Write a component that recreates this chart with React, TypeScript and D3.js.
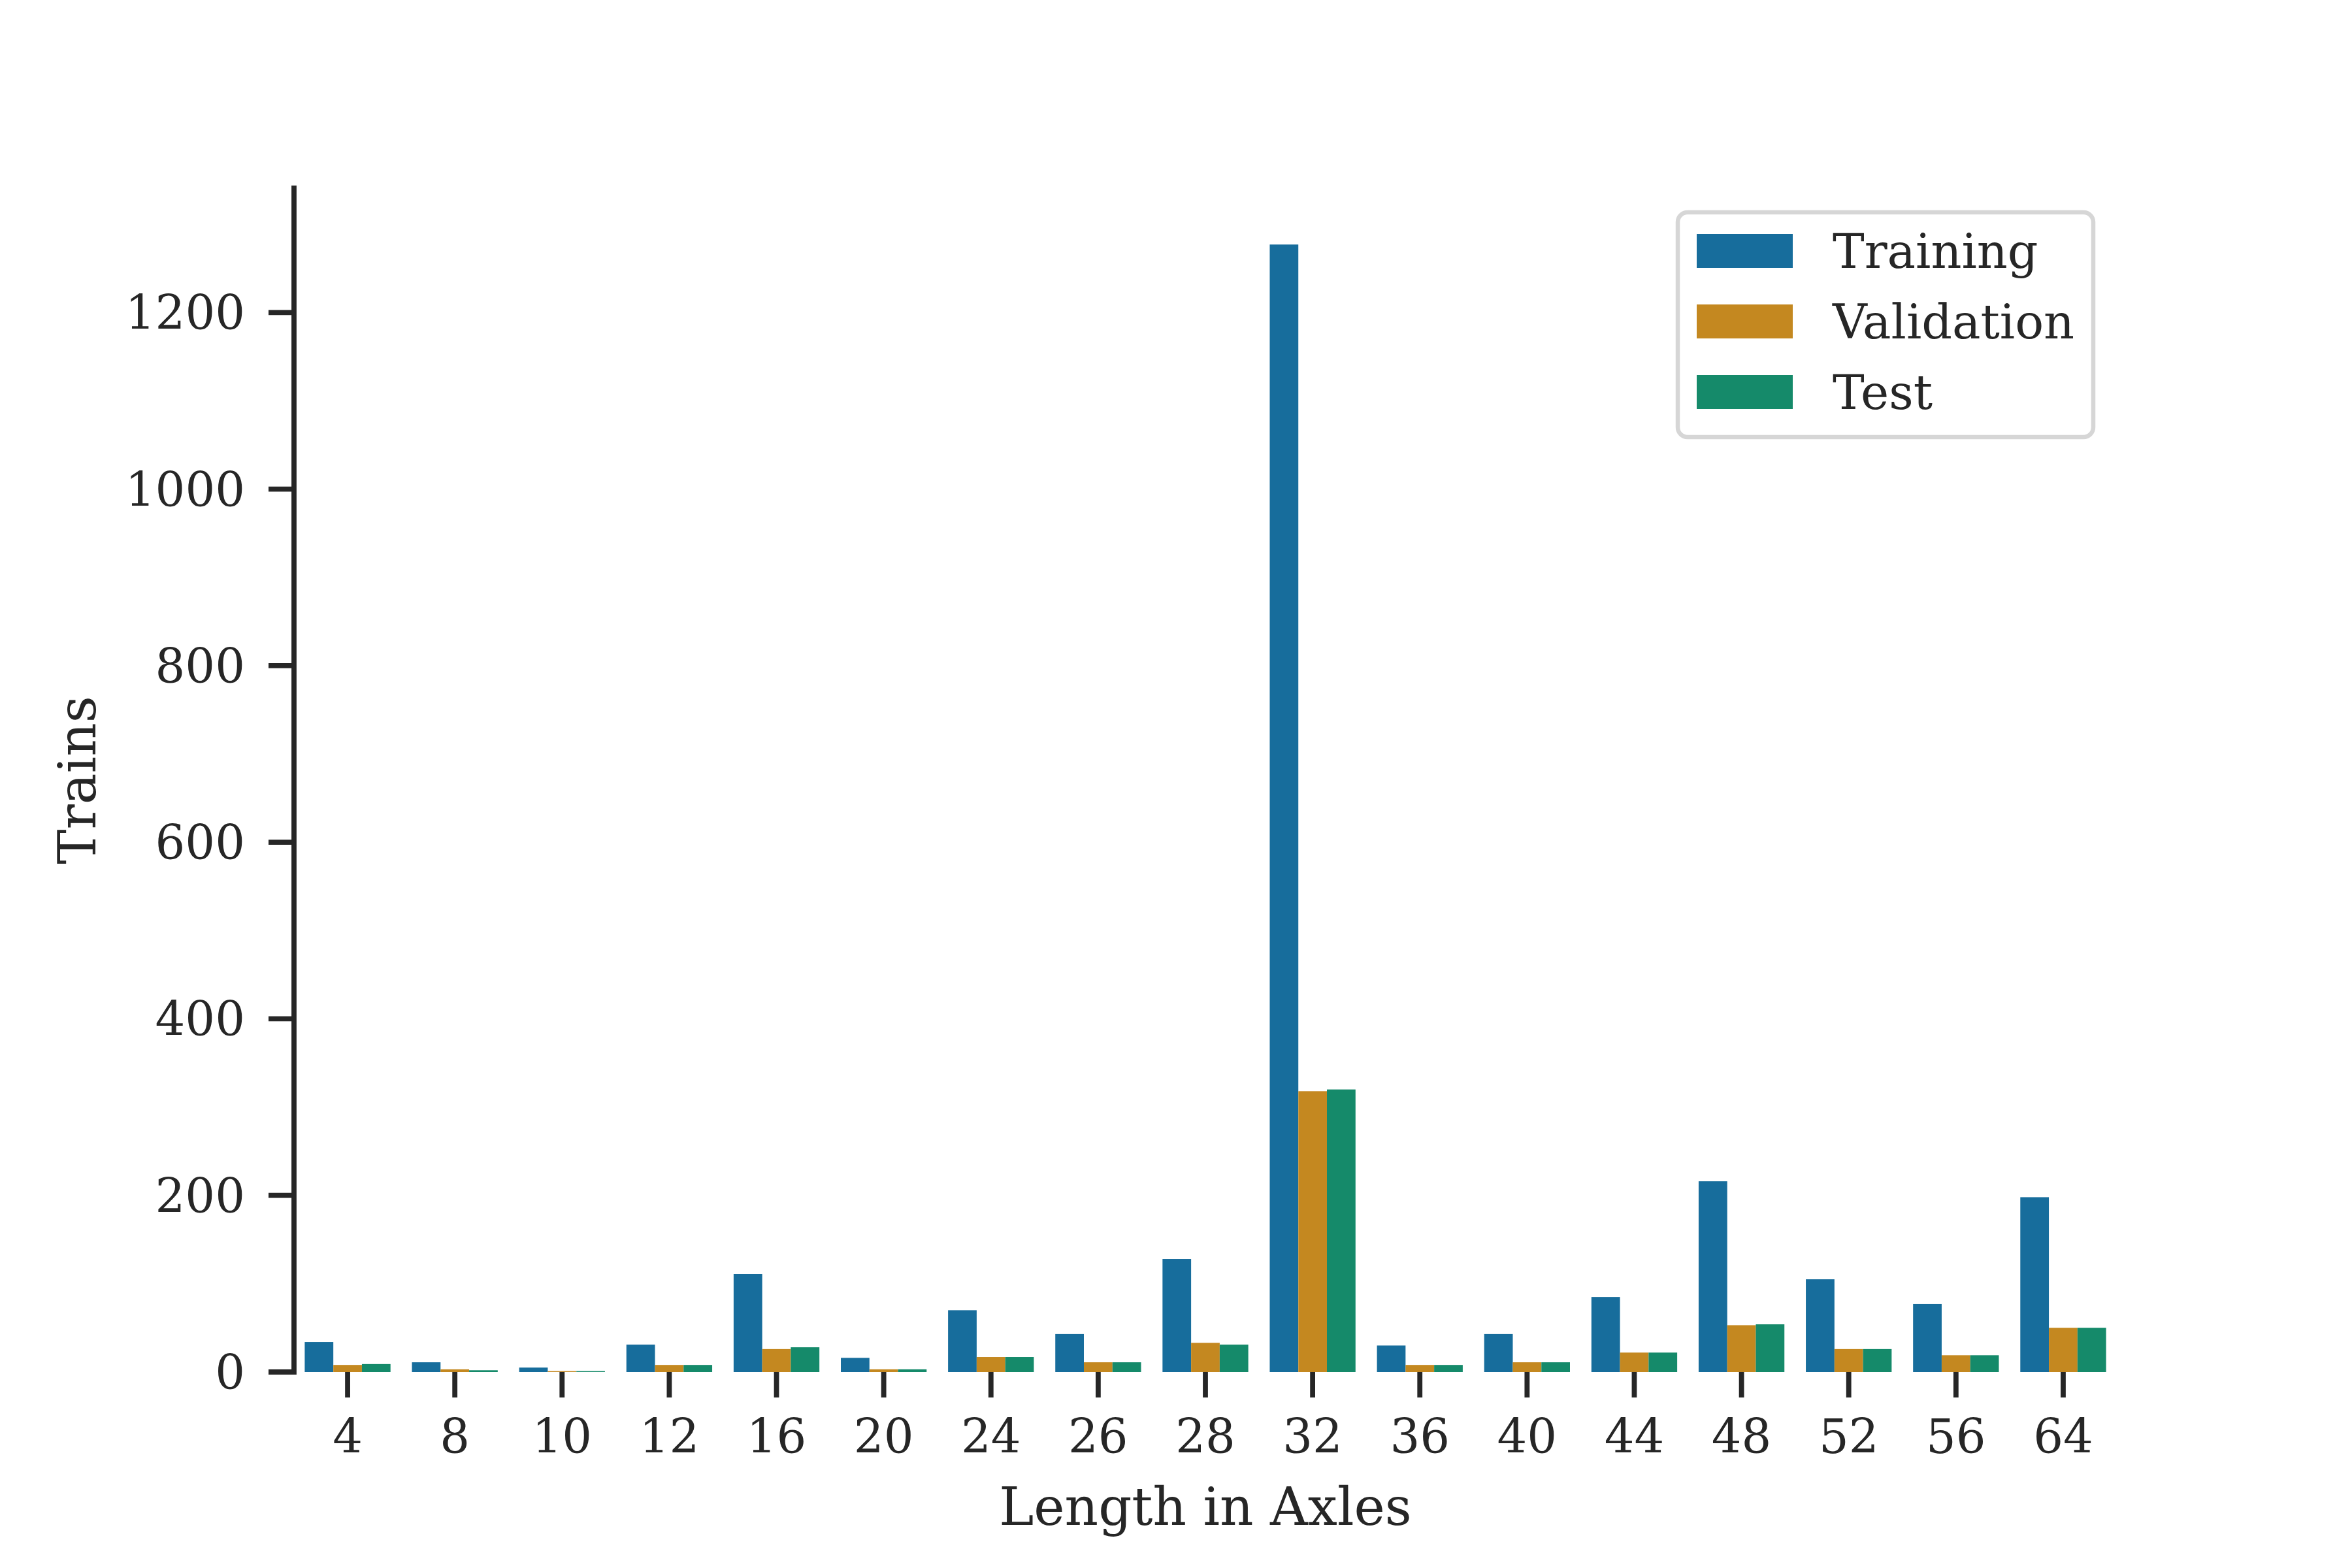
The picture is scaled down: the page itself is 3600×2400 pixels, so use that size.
import React from "react";
import * as d3 from "d3";

const categories = ["4", "8", "10", "12", "16", "20", "24", "26", "28", "32", "36", "40", "44", "48", "52", "56", "64"];
const training = [34, 11, 5, 31, 111, 16, 70, 43, 128, 1277, 30, 43, 85, 216, 105, 77, 198];
const validation = [8, 3, 1, 8, 26, 3, 17, 11, 33, 318, 8, 11, 22, 53, 26, 19, 50];
const test = [9, 2, 1, 8, 28, 3, 17, 11, 31, 320, 8, 11, 22, 54, 26, 19, 50];
const seriesNames = ["Training", "Validation", "Test"];
const seriesColors = ["#176d9c", "#c48820", "#158a6a"];
const yTicks = [0, 200, 400, 600, 800, 1000, 1200];

const W = 3600;
const H = 2400;
const left = 450;
const right = 3240;
const top = 288;
const bottom = 2100;
const ink = "#262626";
const font = "'DejaVu Serif', serif";

export default function App() {
  const seriesValues = [training, validation, test];
  const x = d3.scaleBand<string>().domain(categories).range([left, right]).paddingInner(0.2).paddingOuter(0.1);
  const xi = d3.scaleBand<string>().domain(seriesNames).range([0, x.bandwidth()]).padding(0);
  const ymax = d3.max(training)! * 1.05;
  const y = d3.scaleLinear().domain([0, ymax]).range([bottom, top]);
  const lw = 7.8;
  const tickLen = 39;
  const tickFs = 72;
  const labelFs = 80;
  const legFs = 73;
  const handleW = 147;
  const handleH = 52;

  const legRight = 3204;
  const legLeft = 2568;
  const legTop = 325;
  const legBottom = 669;
  const rowY = [384, 492, 600];

  return (
    <svg width={W} height={H} viewBox={`0 0 ${W} ${H}`} style={{ position: "absolute", left: 0, top: 0, background: "#fff" }}>
      <rect x={0} y={0} width={W} height={H} fill="#fff" />
      {seriesValues.map((vals, si) => (
        <g key={si} fill={seriesColors[si]}>
          {categories.map((c, ci) => (
            <rect key={c} x={x(c)! + xi(seriesNames[si])!} width={xi.bandwidth()} y={y(vals[ci])} height={y(0) - y(vals[ci])} />
          ))}
        </g>
      ))}
      {/* y axis */}
      <line x1={left} x2={left} y1={top} y2={bottom} stroke={ink} strokeWidth={lw} strokeLinecap="square" />
      {yTicks.map((t) => (
        <g key={t}>
          <line x1={left - tickLen} x2={left} y1={y(t)} y2={y(t)} stroke={ink} strokeWidth={lw} />
          <text x={375} y={y(t) + 26} textAnchor="end" fontFamily={font} fontSize={tickFs} fill={ink}>
            {t}
          </text>
        </g>
      ))}
      {/* x ticks */}
      {categories.map((c) => {
        const cx = x(c)! + x.bandwidth() / 2;
        return (
          <g key={c}>
            <line x1={cx} x2={cx} y1={bottom} y2={bottom + tickLen} stroke={ink} strokeWidth={lw} />
            <text x={cx} y={2224} textAnchor="middle" fontFamily={font} fontSize={tickFs} fill={ink}>
              {c}
            </text>
          </g>
        );
      })}
      <text x={(left + right) / 2} y={2334} textAnchor="middle" fontFamily={font} fontSize={labelFs} fill={ink}>
        Length in Axles
      </text>
      <text transform={`translate(146, ${(top + bottom) / 2}) rotate(-90)`} textAnchor="middle" fontFamily={font} fontSize={labelFs} fill={ink}>
        Trains
      </text>
      {/* legend */}
      <rect x={legLeft} y={legTop} width={legRight - legLeft} height={legBottom - legTop} rx={15} ry={15} fill="#fff" fillOpacity={0.8} stroke="#d6d6d6" strokeWidth={6.5} />
      {seriesNames.map((n, i) => (
        <g key={n}>
          <rect x={2597} y={rowY[i] - handleH / 2} width={handleW} height={handleH} fill={seriesColors[i]} />
          <text x={2805} y={rowY[i] + 26} fontFamily={font} fontSize={legFs} fill={ink}>
            {n}
          </text>
        </g>
      ))}
    </svg>
  );
}
